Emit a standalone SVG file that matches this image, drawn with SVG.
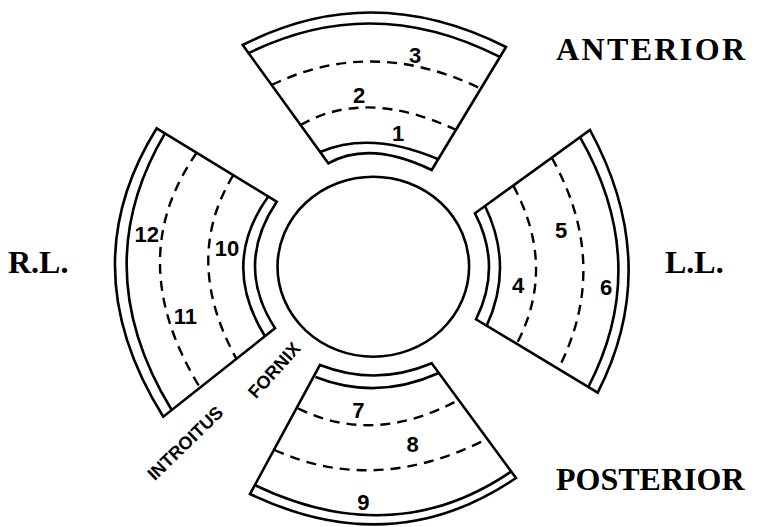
<svg xmlns="http://www.w3.org/2000/svg" width="766" height="527" viewBox="0 0 766 527">
<style>
.s{fill:none;stroke:#000;stroke-width:2.6;stroke-linejoin:miter}
.d{fill:none;stroke:#000;stroke-width:2.4;stroke-dasharray:10 7}
.n{font-family:"Liberation Sans",Arial,sans-serif;font-weight:bold;font-size:22px;text-anchor:middle;fill:#000}
.r{font-family:"Liberation Sans",Arial,sans-serif;font-weight:bold;font-size:18px;text-anchor:middle;fill:#000}
.t{font-family:"Liberation Serif","Times New Roman",serif;font-weight:bold;font-size:32px;fill:#000}
</style>
<rect width="766" height="527" fill="#fff"/>
<g id="center">
<ellipse class="s" cx="373.3" cy="266.7" rx="95.8" ry="90"/>
</g>
<g id="anterior">
<path class="s" d="M242.7,45 Q371.65,-21 506,47 L431.7,170 Q370,139.95 328.3,163.3 Z"/>
<path class="s" d="M248.3,53.3 Q372.2,-8 499.3,56.7"/>
<path class="s" d="M320.2,152 Q370.75,130.35 438.3,159.3"/>
<path class="d" d="M271.7,85 Q371.9,36.25 480.5,88.5"/>
<path class="d" d="M300.6,125 Q365.7,87.5 456,130"/>
<text class="n" x="398" y="141">1</text>
<text class="n" x="359" y="103">2</text>
<text class="n" x="415" y="63">3</text>
</g>
<g id="left-lateral">
<path class="s" d="M475,213.3 L590,130 Q663.15,264.65 597.7,392.7 L476,319.3 Q502.5,266.3 475,213.3 Z"/>
<path class="s" d="M580,137.2 Q652.45,263.9 588.3,387"/>
<path class="s" d="M485,206 Q514.15,266.15 486.7,325.7"/>
<path class="d" d="M513.3,185.6 Q557,267.3 516.7,343.8"/>
<path class="d" d="M551.7,157.7 Q611.6,264.7 558.3,368.9"/>
<text class="n" x="518" y="293">4</text>
<text class="n" x="561" y="238">5</text>
<text class="n" x="606" y="294.5">6</text>
</g>
<g id="posterior">
<path class="s" d="M320,365 Q376.15,386.85 431.7,363.3 L516,478 Q392.5,562 250,494 Z"/>
<path class="s" d="M315.5,377 Q376.85,401 438.8,373"/>
<path class="s" d="M254.5,485 Q393.3,551.65 510.9,471.7"/>
<path class="d" d="M298,408.3 Q373.75,445.85 458.5,400"/>
<path class="d" d="M274.5,450 Q375.25,495.5 487,439"/>
<text class="n" x="358.3" y="418">7</text>
<text class="n" x="412.5" y="451.5">8</text>
<text class="n" x="363.3" y="509.5">9</text>
</g>
<g id="right-lateral">
<path class="s" d="M156.7,128.3 L276.7,201.7 Q234.15,265 275,328.3 L163.3,416.7 Q70,267.5 156.7,128.3 Z"/>
<path class="s" d="M165,133.4 Q85.05,268.3 171.7,410"/>
<path class="s" d="M268.3,196.6 Q219.95,263.6 265,336.2"/>
<path class="d" d="M196.7,152.8 Q121.65,259.75 200,387.7"/>
<path class="d" d="M233.3,175.2 Q181.7,259.5 236.5,359"/>
<text class="n" x="227" y="256">10</text>
<text class="n" x="185.3" y="323.5">11</text>
<text class="n" x="146.7" y="241.5">12</text>
</g>
<g id="labels">
<text class="r" transform="translate(274,370) rotate(-48)" dy="6.5">FORNIX</text>
<text class="r" transform="translate(185,443) rotate(-44)" dy="6.5">INTROITUS</text>
<text class="t" x="556" y="60" textLength="189" lengthAdjust="spacing">ANTERIOR</text>
<text class="t" x="556" y="490">POSTERIOR</text>
<text class="t" x="8" y="273">R.L.</text>
<text class="t" x="665" y="273">L.L.</text>
</g>
</svg>
